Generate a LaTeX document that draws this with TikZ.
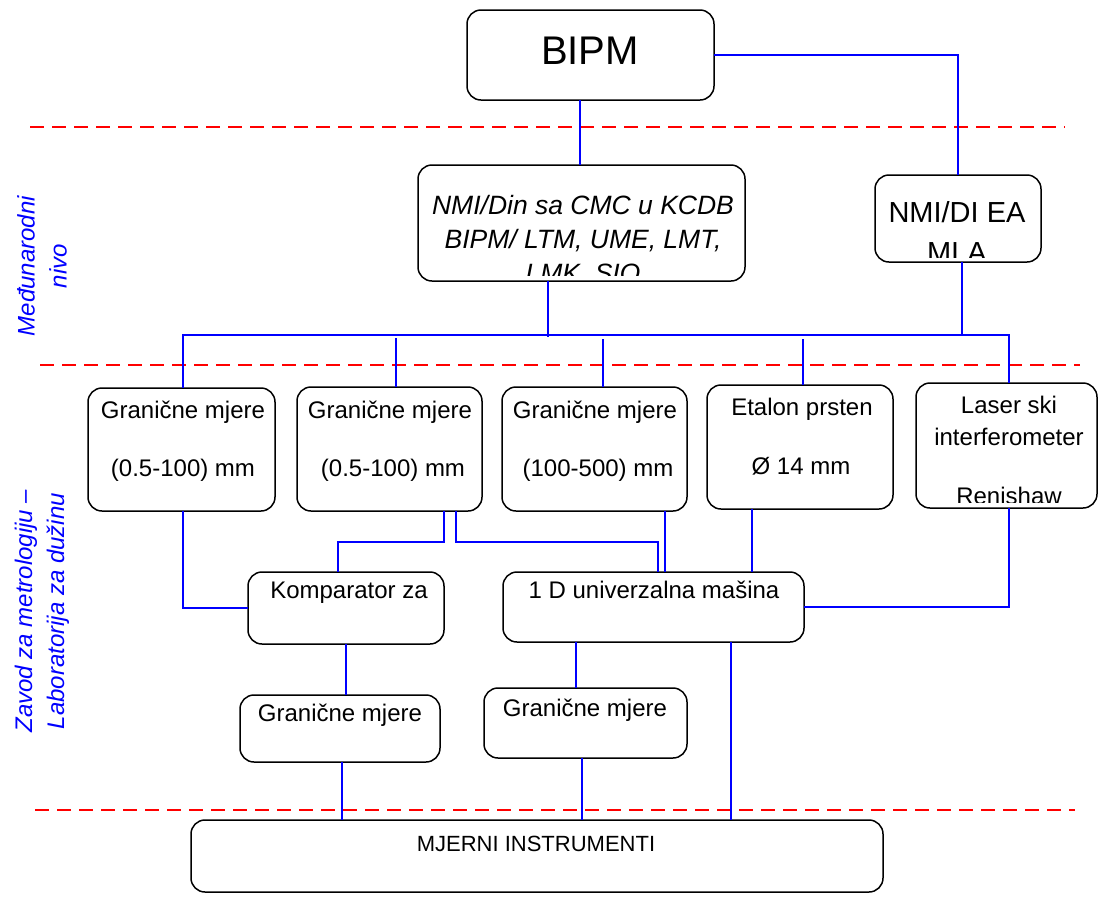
\documentclass[tikz,border=0pt]{standalone}
\usepackage{fontspec}
\setmainfont{Liberation Sans}
\begin{document}
\begin{tikzpicture}[x=1pt,y=-1pt,
  box/.style={draw=black, line width=1.5pt, fill=white, rounded corners=14pt, inner sep=0pt, outer sep=0pt},
  conn/.style={draw=blue, line width=1.6pt},
  sepline/.style={draw=red, line width=1.6pt, dash pattern=on 14pt off 8pt},
  lbl/.style={inner sep=0pt, anchor=base, font=\fontsize{24}{28}\selectfont},
  side/.style={rotate=90, align=center, text=blue, inner sep=0pt, font=\fontsize{24}{32}\selectfont\itshape}]
\useasboundingbox (0,0) rectangle (1104,898);

% separators
\coordinate (s1a) at (30,127);  \coordinate (s1b) at (1065,127);
\coordinate (s2a) at (40,365);  \coordinate (s2b) at (1080,365);
\coordinate (s3a) at (35,810);  \coordinate (s3b) at (1075,810);
\draw[sepline] (s1a) -- (s1b);
\draw[sepline] (s2a) -- (s2b);
\draw[sepline] (s3a) -- (s3b);

% boxes
\node[box, minimum width=247, minimum height=90]  (bipm) at (590.5,55) {};
\node[box, minimum width=327, minimum height=116] (nmi)  at (581.5,223) {};
\node[box, minimum width=166, minimum height=87]  (ea)   at (958,218.5) {};
\node[box, minimum width=187, minimum height=123] (g1)   at (181.5,449.5) {};
\node[box, minimum width=185, minimum height=124] (g2)   at (389.5,449) {};
\node[box, minimum width=185, minimum height=124] (g3)   at (594.5,449) {};
\node[box, minimum width=186, minimum height=124] (et)   at (800,447) {};
\node[box, minimum width=181, minimum height=125] (ls)   at (1006.5,445.5) {};
\node[box, minimum width=196, minimum height=72]  (kom)  at (346,608) {};
\node[box, minimum width=301, minimum height=70]  (ud)   at (653.5,607) {};
\node[box, minimum width=200, minimum height=67]  (ga)   at (340,728.5) {};
\node[box, minimum width=203, minimum height=70]  (gb)   at (585.5,723) {};
\node[box, minimum width=692, minimum height=72]  (mj)   at (537,856) {};

% connectors
\coordinate (busL) at (183,335);
\coordinate (busR) at (1009,335);
\coordinate (nmiJ) at (548,337);
\coordinate (eaJ) at (962,334);
\coordinate (g2J) at (396,338);
\coordinate (g3J) at (603,339);
\coordinate (etJ) at (803,339);
\draw[conn] (bipm.south -| 580,0) -- (nmi.north -| 580,0);
\draw[conn] (bipm.east) -| (ea.north);
\draw[conn] (g1.north -| busL) -- (busL) -- (busR) -- (ls.north -| busR);
\draw[conn] (nmi.south -| nmiJ) -- (nmiJ);
\draw[conn] (ea.south -| eaJ) -- (eaJ);
\draw[conn] (g2J) -- (g2.north -| g2J);
\draw[conn] (g3J) -- (g3.north -| g3J);
\draw[conn] (etJ) -- (et.north -| etJ);
\draw[conn] (g1.south -| 183,0) |- (kom.west);
\draw[conn] (g2.south -| 444,0) |- (338,542) -- (kom.north -| 338,0);
\draw[conn] (g2.south -| 456,0) |- (658,542) -- (ud.north -| 658,0);
\draw[conn] (g3.south -| 665,0) -- (ud.north -| 665,0);
\draw[conn] (et.south -| 752,0) -- (ud.north -| 752,0);
\draw[conn] (ls.south -| 1009,0) |- (ud.east);
\draw[conn] (kom.south -| 346,0) -- (ga.north -| 346,0);
\draw[conn] (ud.south -| 576,0) -- (gb.north -| 576,0);
\draw[conn] (ud.south -| 731,0) -- (mj.north -| 731,0);
\draw[conn] (ga.south -| 342,0) -- (mj.north -| 342,0);
\draw[conn] (gb.south -| 582,0) -- (mj.north -| 582,0);

% texts
\node[lbl, font=\fontsize{40}{44}\selectfont] (tbipm) at (590,64) {BIPM};

\begin{scope}
\clip (420,167) rectangle (743,275);
\node[lbl, font=\fontsize{26.5}{30}\selectfont\itshape] (tn1) at (583,214.5) {NMI/Din sa CMC u KCDB};
\node[lbl, font=\fontsize{26.5}{30}\selectfont\itshape] (tn2) at (583,248.5) {BIPM/ LTM, UME, LMT,};
\node[lbl, font=\fontsize{26.5}{30}\selectfont\itshape] (tn3) at (583,282.5) {LMK, SIQ};
\end{scope}

\begin{scope}
\clip (877,177) rectangle (1039,257);
\node[lbl, font=\fontsize{29}{33}\selectfont] (te1) at (957,222.5) {NMI/DI EA};
\node[lbl, font=\fontsize{29}{33}\selectfont] (te2) at (957,262.5) {MLA};
\end{scope}

\node[lbl] (t11) at (183,418.5) {Granične mjere};
\node[lbl] (t12) at (183,476.5) {(0.5-100) mm};
\node[lbl] (t21) at (390,418.5) {Granične mjere};
\node[lbl] (t22) at (393,476.5) {(0.5-100) mm};
\node[lbl] (t31) at (595,418.5) {Granične mjere};
\node[lbl] (t32) at (598,476.5) {(100-500) mm};
\node[lbl] (t41) at (802,415.5) {Etalon prsten};
\node[lbl] (t42) at (801,474.5) {Ø 14 mm};
\node[lbl] (t51) at (1009,413.5) {Laser ski};
\node[lbl] (t52) at (1009,445.5) {interferometer};
\begin{scope}
\clip (918,385) rectangle (1095,502);
\node[lbl] (t53) at (1009,504.5) {Renishaw};
\end{scope}
\node[lbl] (tkom) at (349,598.5) {Komparator za};
\node[lbl] (tud) at (654,598.5) {1 D univerzalna mašina};
\node[lbl] (tga) at (340,721.5) {Granične mjere};
\node[lbl] (tgb) at (585,716.5) {Granične mjere};
\node[lbl, font=\fontsize{22}{26}\selectfont] (tmj) at (536,851) {MJERNI INSTRUMENTI};

% side labels
\node[side] (side1) at (42,266) {Međunarodni\\nivo};
\node[side] (side2) at (42,611) {Zavod za metrologiju –\\Laboratorija za dužinu};
\end{tikzpicture}
\end{document}
